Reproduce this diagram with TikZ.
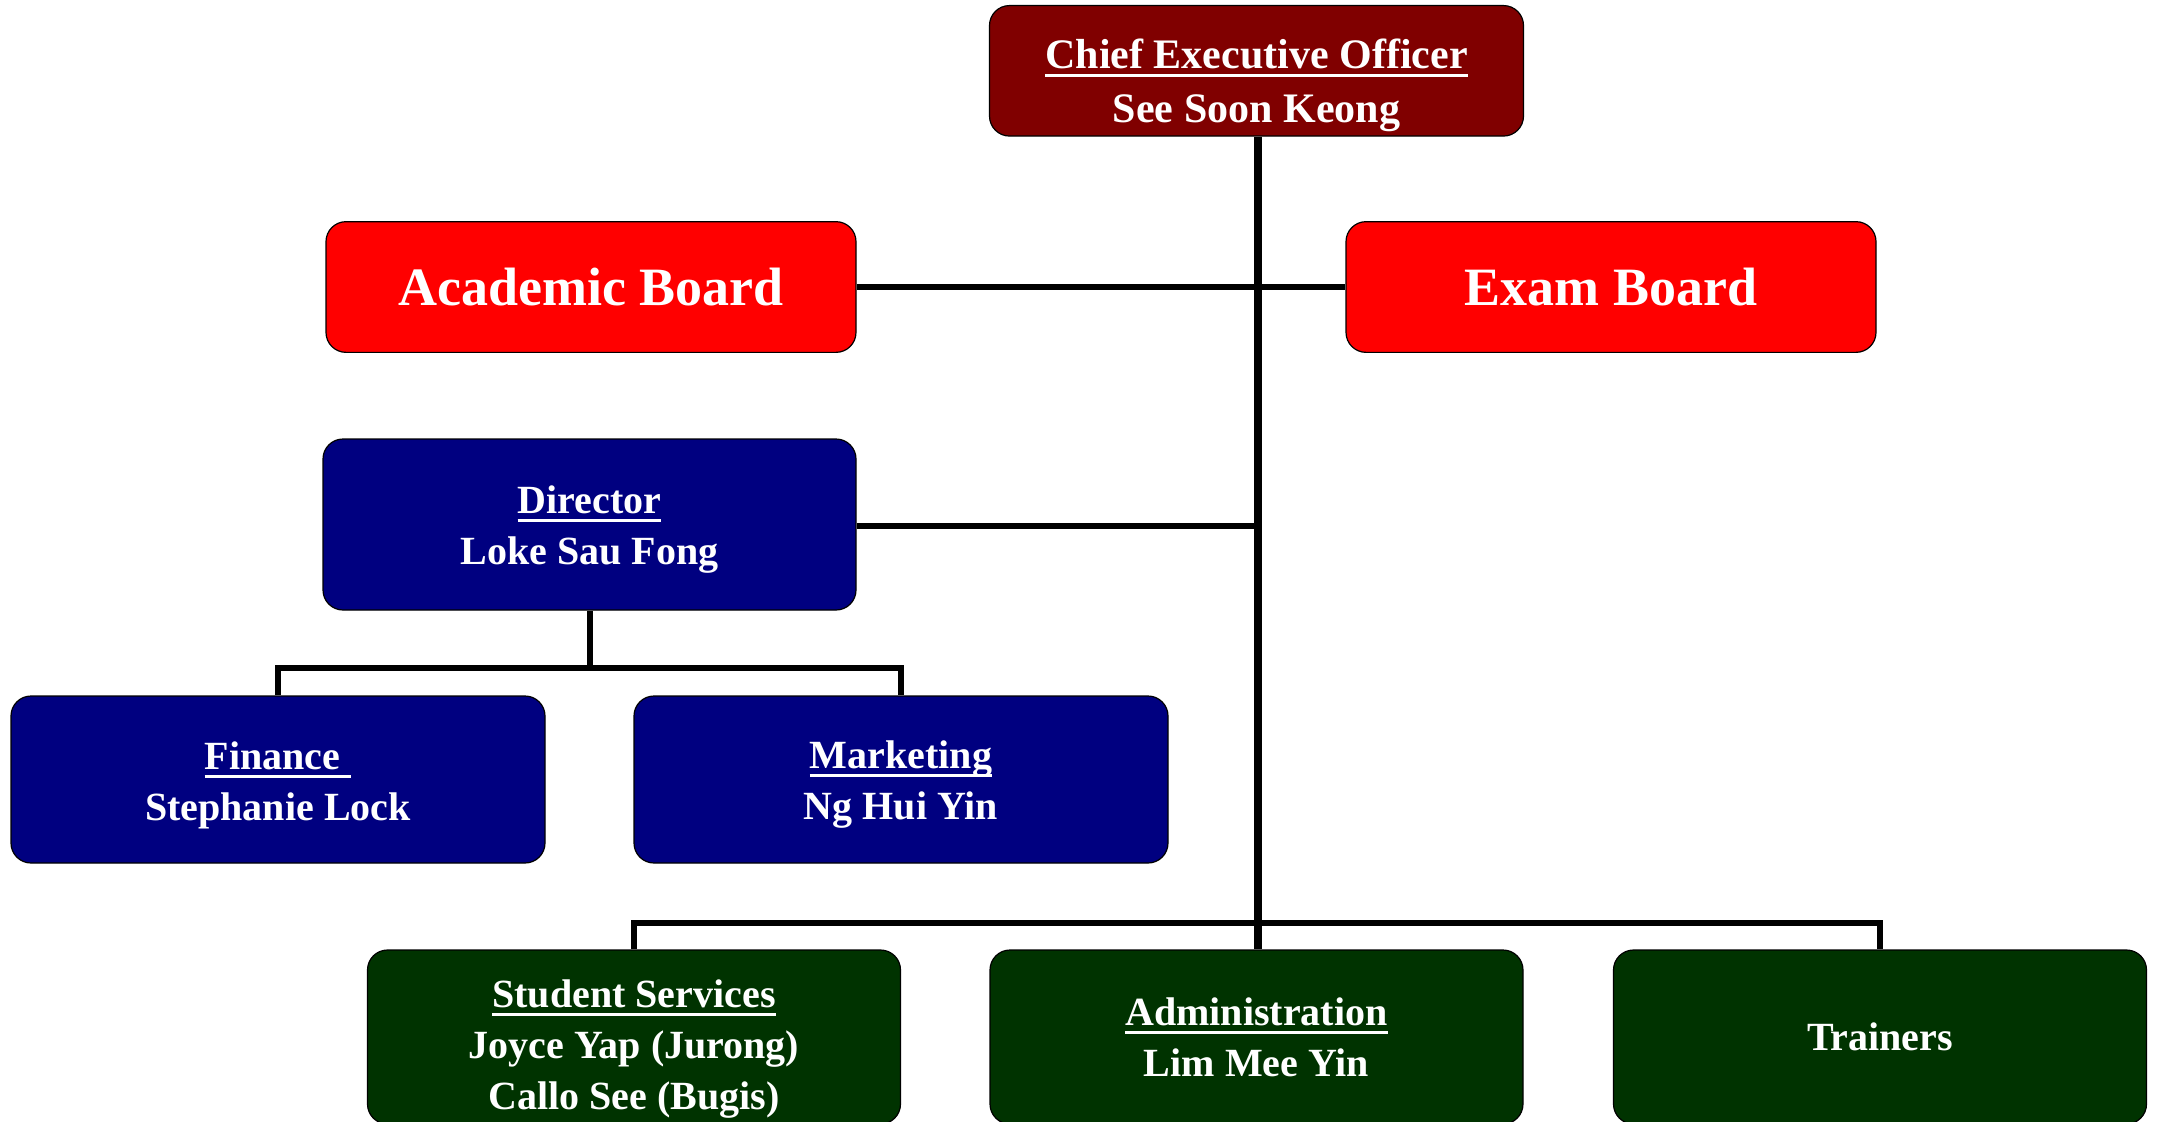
\documentclass[tikz,border=0pt]{standalone}
\usepackage{fontspec}
\setmainfont{Liberation Serif}
\newcommand{\myul}[1]{\leavevmode\setbox0\hbox{#1}\rlap{\rule[-0.21em]{\wd0}{0.075em}}\box0}
\definecolor{ceored}{HTML}{800000}
\definecolor{boardred}{HTML}{FF0000}
\definecolor{navybox}{HTML}{000080}
\definecolor{greenbox}{HTML}{003300}
\tikzset{
  box/.style={draw=black, line width=0.6pt, rounded corners=10pt, inner sep=0pt,
    align=center, text=white, font=\bfseries\fontsize{20}{25.5}\selectfont},
  ceobox/.style={box, fill=ceored, minimum width=267pt, minimum height=65.25pt},
  boardbox/.style={box, fill=boardred, minimum width=265pt, minimum height=65.35pt,
    font=\bfseries\fontsize{27}{32}\selectfont},
  dirbox/.style={box, fill=navybox, minimum width=266.5pt, minimum height=85.5pt},
  midbox/.style={box, fill=navybox, minimum width=267pt, minimum height=83.5pt},
  lowbox/.style={box, fill=greenbox, minimum width=266.5pt, minimum height=87pt},
  boxtext/.style={inner sep=0pt, align=center, text=white,
    font=\bfseries\fontsize{20}{25.5}\selectfont},
  ceotext/.style={boxtext, font=\bfseries\fontsize{21}{27}\selectfont},
  trunk/.style={line width=3.75pt},
  link/.style={line width=3pt},
}
\begin{document}
\begin{tikzpicture}[x=0.5pt, y=-0.5pt]
\useasboundingbox (0,0) rectangle (2158,1121);
\coordinate (ceoS) at (1258,136);
\coordinate (dbar) at (589.5,668);
\coordinate (bbar) at (1258,923);
% boxes
\node[ceobox] (ceo) at (1256.5,70.8) {};
\node[ceotext] (ceotxt) at (1256.5,85) {\myul{Chief Executive Officer}\\See Soon Keong};
\node[boardbox] (acad) at (591,287) {Academic Board};
\node[boardbox] (exam) at (1611,287) {Exam Board};
\node[dirbox] (dir) at (589.5,524.5) {};
\node[boxtext] (dirtxt) at ([yshift=-2.75pt]dir.center) {\myul{Director}\\Loke Sau Fong};
\node[midbox] (fin) at (278,779.5) {};
\node[boxtext] (fintxt) at ([yshift=-2.75pt]fin.center) {\myul{Finance\phantom{i}}\\Stephanie Lock};
\node[midbox] (mkt) at (901,779.5) {};
\node[boxtext] (mkttxt) at ([yshift=-2.75pt]mkt.center) {\myul{Marketing}\\Ng Hui Yin};
\node[lowbox] (stu) at (634,1037) {};
\node[boxtext] (stutxt) at ([yshift=-6pt]stu.center) {\myul{Student Services}\\Joyce Yap (Jurong)\\Callo See (Bugis)};
\node[lowbox] (adm) at (1256.5,1037) {\myul{Administration}\\Lim Mee Yin};
\node[lowbox] (trn) at (1880,1037) {Trainers};
% lines
\draw[trunk] (ceo.south -| ceoS) -- (adm.north -| ceoS);
\draw[link] (acad.east) -- (exam.west);
\draw[link] (dir.east |- 0,525.7) -- (ceoS |- 0,525.7);
\draw[link] (dir.south -| dbar) -- (dbar);
\draw[link] (fin.north) |- (dbar) -| (mkt.north);
\draw[link] (stu.north) |- (bbar) -| (trn.north);
\end{tikzpicture}
\end{document}
